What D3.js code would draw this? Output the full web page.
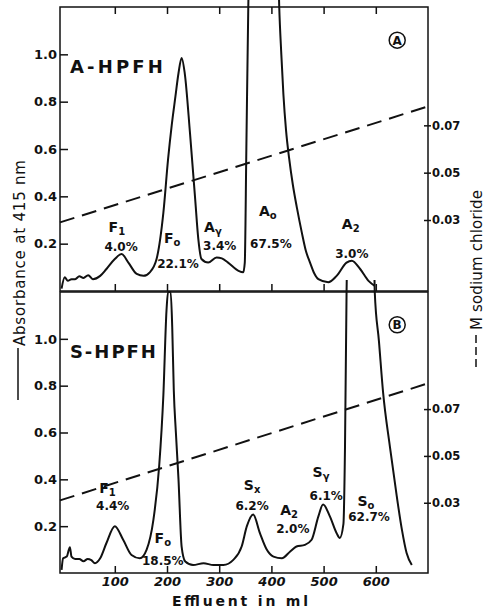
<!DOCTYPE html>
<html>
<head>
<meta charset="utf-8">
<script src="https://cdn.jsdelivr.net/npm/d3@7"></script>
<style>
  body { margin: 0; background: #fff; }
  svg { display: block; }
  text { font-family: "DejaVu Sans", sans-serif; fill: #111; }
</style>
</head>
<body>
<svg width="489" height="609"></svg>
<script>
// panel A (A-HPFH): effluent volume (ml) and absorbance at 415 nm
var mlA = [-2, 4, 10, 17, 24, 32, 40, 49, 58, 72, 84, 100, 113, 126, 142, 155, 167, 180, 193, 202, 209, 216, 222, 228, 234, 244, 254, 260, 266, 279, 295, 305, 317, 337, 346, 349, 352, 355.7, 358, 370, 400, 412, 415, 419, 423, 428, 434, 441, 449, 458, 466, 474, 482, 490, 509, 525, 544, 554, 570, 586, 598]
var absA = [0.01, 0.058, 0.043, 0.05, 0.05, 0.062, 0.055, 0.067, 0.05, 0.064, 0.093, 0.135, 0.156, 0.12, 0.072, 0.064, 0.079, 0.135, 0.33, 0.556, 0.70, 0.82, 0.92, 0.985, 0.92, 0.668, 0.387, 0.219, 0.135, 0.12, 0.142, 0.138, 0.12, 0.085, 0.079, 0.12, 0.6, 1.2, 1.45, 1.8, 1.8, 1.45, 1.2, 1.0, 0.83, 0.68, 0.56, 0.45, 0.35, 0.25, 0.17, 0.12, 0.075, 0.05, 0.037, 0.064, 0.12, 0.128, 0.093, 0.043, 0.022]

// panel B (S-HPFH)
var mlB = [-2, 1, 8, 12, 14, 17, 24, 32, 40, 48, 55, 62, 72, 84, 100, 116, 132, 148, 161, 174, 185, 193, 199, 202, 207, 210, 213, 217, 222, 228, 235, 250, 270, 289, 308, 327, 343, 353, 365, 378, 391, 404, 420, 436, 448, 464, 477, 490, 499, 512, 525, 531, 538, 541, 544, 547, 560, 590, 596, 598, 606, 614, 627, 640, 650, 659, 669]
var absB = [0.013, 0.063, 0.07, 0.1, 0.11, 0.07, 0.06, 0.06, 0.05, 0.06, 0.055, 0.042, 0.063, 0.128, 0.2, 0.142, 0.077, 0.063, 0.1, 0.228, 0.457, 0.758, 1.12, 1.2, 1.2, 1.05, 0.78, 0.6, 0.4, 0.113, 0.049, 0.034, 0.042, 0.034, 0.034, 0.056, 0.113, 0.2, 0.25, 0.17, 0.1, 0.07, 0.063, 0.092, 0.113, 0.12, 0.142, 0.242, 0.292, 0.242, 0.17, 0.15, 0.21, 0.54, 1.2, 1.5, 1.8, 1.8, 1.5, 1.2, 0.99, 0.77, 0.54, 0.33, 0.185, 0.085, 0.034]

// sodium chloride gradient (M), dashed line
var saltMl = [-5, 700]
var saltA = [0.029, 0.078]
var saltB = [0.031, 0.081]

// peak names and percentages
var peakA = [['F', '1'], ['F', 'o'], ['A', 'γ'], ['A', 'o'], ['A', '2']]
var pctA = ['4.0%', '22.1%', '3.4%', '67.5%', '3.0%']
var peakB = [['F', '1'], ['F', 'o'], ['S', 'x'], ['A', '2'], ['S', 'γ'], ['S', 'o']]
var pctB = ['4.4%', '18.5%', '6.2%', '2.0%', '6.1%', '62.7%']

// tick labels
var mlTicks = [100, 200, 300, 400, 500, 600]
var absTicks = [0.2, 0.4, 0.6, 0.8, 1.0]
var absTickLabels = ['0.2', '0.4', '0.6', '0.8', '1.0']
var saltTicks = [0.03, 0.05, 0.07]
var saltTickLabels = ['0.03', '0.05', '0.07']

// where the labels sit (ml, absorbance): name, then percentage
var nameSpotA = [[104, 0.249], [210, 0.203], [288, 0.249], [393, 0.317], [552, 0.262]]
var pctSpotA = [[112, 0.169], [221, 0.097], [301, 0.173], [399, 0.182], [554, 0.139]]
var nameSpotB = [[86, 0.342], [192, 0.128], [363, 0.354], [434, 0.248], [495, 0.41], [581, 0.286]]
var pctSpotB = [[96, 0.269], [192, 0.034], [363, 0.269], [441, 0.171], [505, 0.312], [587, 0.222]]

var svg = d3.select('svg')

var x = d3.scaleLinear().domain([-5, 700]).range([60, 428])

var panels = [
    { ml: mlA, abs: absA, salt: saltA, range: [291, 7], clipTop: 0, title: 'A-HPFH', titleLen: 93, tag: 'A',
      names: peakA, pcts: pctA, nameSpots: nameSpotA, pctSpots: pctSpotA, id: 'a' },
    { ml: mlB, abs: absB, salt: saltB, range: [573, 292], clipTop: 280, title: 'S-HPFH', titleLen: 86, tag: 'B',
      names: peakB, pcts: pctB, nameSpots: nameSpotB, pctSpots: pctSpotB, id: 'b' }
]

panels.forEach(function (p, k) {
    var y = d3.scaleLinear().domain([0, 1.2]).range(p.range)
    var ySalt = d3.scaleLinear().domain([0, 0.12]).range(p.range)
    var g = svg.append('g')

    g.append('clipPath').attr('id', 'clip-' + p.id)
        .append('rect')
        .attr('x', 60).attr('y', p.clipTop)
        .attr('width', 368).attr('height', p.range[0] - p.clipTop)

    // frame
    g.append('rect')
        .attr('x', 60).attr('y', p.range[1])
        .attr('width', 368).attr('height', p.range[0] - p.range[1])
        .attr('fill', 'none').attr('stroke', '#111').attr('stroke-width', 1.5)

    // left axis (absorbance), ticks inside
    var left = g.append('g').attr('transform', 'translate(60,0)')
        .call(d3.axisLeft(y).tickValues(absTicks).tickSize(-8).tickPadding(3)
            .tickFormat(function (d, i) { return absTickLabels[i] }))
    left.select('.domain').remove()
    left.selectAll('line').attr('stroke', '#111').attr('stroke-width', 1.5)
    left.selectAll('text').style('font-size', '13px').style('font-weight', 'bold')
        .style('font-family', '"DejaVu Sans", sans-serif').attr('fill', '#111')

    // right axis (NaCl)
    var right = g.append('g').attr('transform', 'translate(424,0)')
        .call(d3.axisRight(ySalt).tickValues(saltTicks).tickSize(7).tickPadding(1)
            .tickFormat(function (d, i) { return saltTickLabels[i] }))
    right.select('.domain').remove()
    right.selectAll('line').attr('stroke', '#111').attr('stroke-width', 1.5)
    right.selectAll('text').style('font-size', '11.5px').style('font-weight', 'bold')
        .style('font-family', '"DejaVu Sans", sans-serif').attr('fill', '#111')

    // x ticks: top of A, bottom of each panel
    var xb = d3.axisBottom(x).tickValues(mlTicks).tickSize(-7).tickPadding(4)
    if (k === 0) xb.tickFormat('')
    var bottom = g.append('g').attr('transform', 'translate(0,' + p.range[0] + ')').call(xb)
    bottom.select('.domain').remove()
    bottom.selectAll('line').attr('stroke', '#111').attr('stroke-width', 1.5)
    bottom.selectAll('text').style('font-size', '13px').style('font-weight', 'bold')
        .style('font-style', 'italic').style('font-family', '"DejaVu Sans", sans-serif').attr('fill', '#111')
    if (k === 0) {
        var top = g.append('g').attr('transform', 'translate(0,' + p.range[1] + ')')
            .call(d3.axisTop(x).tickValues(mlTicks).tickSize(-7).tickFormat(''))
        top.select('.domain').remove()
        top.selectAll('line').attr('stroke', '#111').attr('stroke-width', 1.5)
    }

    // NaCl gradient
    g.append('path')
        .datum(saltMl.map(function (m, i) { return [m, p.salt[i]] }))
        .attr('d', d3.line().x(function (d) { return x(d[0]) }).y(function (d) { return ySalt(d[1]) }))
        .attr('fill', 'none').attr('stroke', '#111').attr('stroke-width', 2)
        .attr('stroke-dasharray', '15,8')

    // absorbance trace
    g.append('path')
        .datum(p.ml.map(function (m, i) { return [m, p.abs[i]] }))
        .attr('clip-path', 'url(#clip-' + p.id + ')')
        .attr('d', d3.line().curve(d3.curveMonotoneX)
            .x(function (d) { return x(d[0]) }).y(function (d) { return y(d[1]) }))
        .attr('fill', 'none').attr('stroke', '#111').attr('stroke-width', 2)

    // panel title
    g.append('text')
        .attr('x', x(14)).attr('y', y(0.92))
        .attr('textLength', p.titleLen)
        .style('font-size', '18px').style('font-weight', 'bold')
        .text(p.title)

    // circled letter
    g.append('circle')
        .attr('cx', x(641)).attr('cy', y(1.06))
        .attr('r', 8).attr('fill', 'none').attr('stroke', '#111').attr('stroke-width', 1.5)
    g.append('text')
        .attr('x', x(641)).attr('y', y(1.06) + 4.5)
        .attr('text-anchor', 'middle')
        .style('font-size', '12px').style('font-weight', 'bold')
        .text(p.tag)

    // peak names with subscripts
    p.names.forEach(function (n, i) {
        var t = g.append('text')
            .attr('x', x(p.nameSpots[i][0])).attr('y', y(p.nameSpots[i][1]))
            .attr('text-anchor', 'middle')
            .style('font-size', '14px').style('font-weight', 'bold')
        t.append('tspan').text(n[0])
        t.append('tspan').attr('dy', 3).style('font-size', '10px').text(n[1])
    })
    p.pcts.forEach(function (s, i) {
        g.append('text')
            .attr('x', x(p.pctSpots[i][0])).attr('y', y(p.pctSpots[i][1]))
            .attr('text-anchor', 'middle')
            .style('font-size', '12px').style('font-weight', 'bold')
            .text(s)
    })
})

// axis titles
svg.append('line')
    .attr('x1', 18).attr('x2', 18).attr('y1', 400).attr('y2', 348)
    .attr('stroke', '#111').attr('stroke-width', 1.5)
svg.append('text')
    .attr('transform', 'translate(25,346) rotate(-90)')
    .attr('textLength', 186)
    .style('font-size', '15px')
    .text('Absorbance at 415 nm')

svg.append('line')
    .attr('x1', 476).attr('x2', 476).attr('y1', 367).attr('y2', 334)
    .attr('stroke', '#111').attr('stroke-width', 1.5)
    .attr('stroke-dasharray', '8,4')
svg.append('text')
    .attr('transform', 'translate(482,330) rotate(-90)')
    .attr('textLength', 140)
    .style('font-size', '15px')
    .text('M sodium chloride')

svg.append('text')
    .attr('x', 172).attr('y', 606)
    .attr('textLength', 136)
    .style('font-size', '14px').style('font-weight', 'bold')
    .text('Effluent in ml')
</script>
</body>
</html>
